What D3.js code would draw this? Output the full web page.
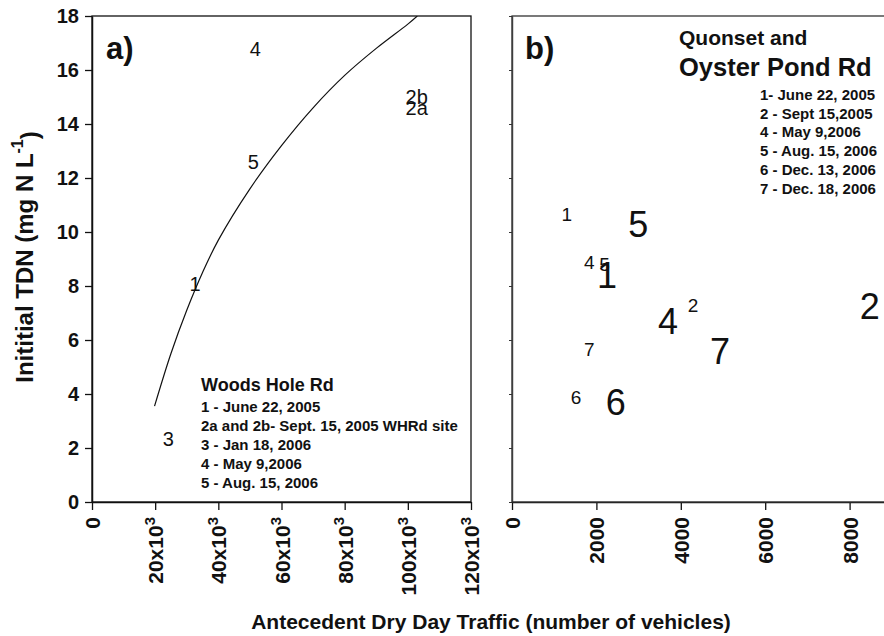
<!DOCTYPE html>
<html>
<head>
<meta charset="utf-8">
<script src="https://cdn.jsdelivr.net/npm/d3@7/dist/d3.min.js"></script>
<style>
  body { margin: 0; background: #fff; }
  text { font-family: "Liberation Sans", Arial, sans-serif; fill: #111; }
</style>
</head>
<body>
<svg id="chart" width="884" height="636"></svg>
<script>
// ---- panel a : Woods Hole Rd ----
var woodsLabels  = ["1", "2a", "2b", "3", "4", "5"];
var woodsTraffic = [32600, 102800, 102800, 24200, 51700, 51100];
var woodsTdn     = [8.1, 14.6, 15.0, 2.35, 16.8, 12.6];

// fitted curve, points
var fitTraffic = [19800, 25000, 30000, 35000, 40000, 50000, 60000, 70000, 80000, 90000, 100000, 103000];
var fitTdn     = [3.55, 5.5, 7.1, 8.5, 9.7, 11.6, 13.2, 14.6, 15.8, 16.8, 17.7, 18.0];

var woodsLegend = ["1 - June 22, 2005", "2a and 2b- Sept. 15, 2005 WHRd site", "3 - Jan 18, 2006",
                   "4 - May 9,2006", "5 - Aug. 15, 2006"];

// ---- panel b : Quonset and Oyster Pond Rd ----
var quonLabels  = ["1", "5", "4", "5", "1", "2", "4", "2", "7", "7", "6", "6"];
var quonTraffic = [1300, 2990, 1830, 2190, 2250, 4290, 3700, 8480, 1830, 4930, 1520, 2460];
var quonTdn     = [10.65, 10.3, 8.9, 8.8, 8.4, 7.3, 6.7, 7.25, 5.65, 5.6, 3.9, 3.7];
var quonBig     = [false, true, false, false, true, false, true, true, false, true, false, true];

var quonLegend = ["1- June 22, 2005", "2 - Sept 15,2005", "4 - May 9,2006", "5 - Aug. 15, 2006",
                  "6 - Dec. 13, 2006", "7 - Dec. 18, 2006"];

var tdnTicks      = [0, 2, 4, 6, 8, 10, 12, 14, 16, 18];
var trafficTicksA = [0, 20000, 40000, 60000, 80000, 100000, 120000];
var trafficTicksB = [0, 2000, 4000, 6000, 8000];

var plotTop = 16, plotBottom = 502;
var svg = d3.select("#chart");

var y = d3.scaleLinear().domain([0, 18]).range([plotBottom, plotTop]);
var xa = d3.scaleLinear().domain([0, 120000]).range([92, 471]);
var xb = d3.scaleLinear().domain([0, 9000]).range([512, 891.8]);

function bottomAxis(scale, ticks, fmt) {
  var g = svg.append("g").attr("transform", "translate(0," + plotBottom + ")")
    .call(d3.axisBottom(scale).tickValues(ticks).tickSize(8).tickSizeOuter(0).tickFormat(""));
  g.select(".domain").attr("stroke", "#111").attr("stroke-width", 1.5);
  g.selectAll(".tick line").attr("stroke", "#111").attr("stroke-width", 1.3);
  g.selectAll(".tick").append("text")
    .attr("transform", "rotate(-90)")
    .attr("x", -15).attr("y", 0).attr("dy", "0.36em")
    .attr("text-anchor", "end")
    .style("font-size", "21px").style("font-weight", "bold")
    .each(function (d) { fmt(d3.select(this), d); });
  return g;
}

// y axis panel a
var ga = svg.append("g").attr("transform", "translate(92,0)")
  .call(d3.axisLeft(y).tickValues(tdnTicks).tickSize(7).tickSizeOuter(0).tickPadding(6));
ga.select(".domain").attr("stroke", "#111").attr("stroke-width", 1.5);
ga.selectAll(".tick line").attr("stroke", "#111").attr("stroke-width", 1.3);
ga.selectAll(".tick text").style("font-size", "20px").style("font-weight", "bold").attr("fill", "#111");

// y axis panel b (no labels)
var gb = svg.append("g").attr("transform", "translate(512,0)")
  .call(d3.axisLeft(y).tickValues(tdnTicks).tickSize(3).tickSizeOuter(0).tickFormat(""));
gb.select(".domain").attr("stroke", "#555").attr("stroke-width", 1.5);
gb.selectAll(".tick line").attr("stroke", "#333");

bottomAxis(xa, trafficTicksA, function (t, d) {
  if (d === 0) { t.text("0"); return; }
  t.text(d / 1000 + "x10");
  t.append("tspan").attr("dy", "-0.55em").style("font-size", "15px").text("3");
});
bottomAxis(xb, trafficTicksB, function (t, d) { t.text(d); });

// frames
svg.append("rect").attr("x", 92).attr("y", plotTop).attr("width", 471 - 92).attr("height", plotBottom - plotTop)
  .attr("fill", "none").attr("stroke", "#111").attr("stroke-width", 1.3);
svg.append("rect").attr("x", 512).attr("y", plotTop).attr("width", 400).attr("height", plotBottom - plotTop)
  .attr("fill", "none").attr("stroke", "#333").attr("stroke-width", 1.3);

// clip for panel a curve
svg.append("clipPath").attr("id", "clipA").append("rect")
  .attr("x", 92).attr("y", plotTop).attr("width", 471 - 92).attr("height", plotBottom - plotTop);

var fitPts = fitTraffic.map(function (v, i) { return [v, fitTdn[i]]; });
var line = d3.line().x(function (d) { return xa(d[0]); }).y(function (d) { return y(d[1]); })
  .curve(d3.curveCatmullRom.alpha(0.5));
svg.append("path").datum(fitPts).attr("d", line).attr("clip-path", "url(#clipA)")
  .attr("fill", "none").attr("stroke", "#111").attr("stroke-width", 1.2);

// point labels panel a
svg.append("g").selectAll("text").data(woodsLabels).enter().append("text")
  .attr("x", function (d, i) { return xa(woodsTraffic[i]); })
  .attr("y", function (d, i) { return y(woodsTdn[i]); })
  .attr("dy", "0.36em").attr("text-anchor", "middle")
  .style("font-size", "20px")
  .text(function (d) { return d; });

// point labels panel b
svg.append("g").selectAll("text").data(quonLabels).enter().append("text")
  .attr("x", function (d, i) { return xb(quonTraffic[i]); })
  .attr("y", function (d, i) { return y(quonTdn[i]); })
  .attr("dy", "0.36em").attr("text-anchor", "middle")
  .style("font-size", function (d, i) { return quonBig[i] ? "36px" : "19px"; })
  .text(function (d) { return d; });

// panel letters
svg.append("text").attr("x", 106).attr("y", 59).style("font-size", "31px").style("font-weight", "bold").text("a)");
svg.append("text").attr("x", 525).attr("y", 59).style("font-size", "31px").style("font-weight", "bold").text("b)");

// legend a
svg.append("text").attr("x", 201).attr("y", 391).style("font-size", "18px").style("font-weight", "bold").text("Woods Hole Rd");
svg.append("g").selectAll("text").data(woodsLegend).enter().append("text")
  .attr("x", 201).attr("y", function (d, i) { return 412 + i * 19.1; })
  .style("font-size", "15px").style("font-weight", "bold")
  .text(function (d) { return d; });

// legend b
svg.append("text").attr("x", 679).attr("y", 45).style("font-size", "21px").style("font-weight", "bold").text("Quonset and");
svg.append("text").attr("x", 679).attr("y", 76).style("font-size", "25.5px").style("font-weight", "bold").text("Oyster Pond Rd");
svg.append("g").selectAll("text").data(quonLegend).enter().append("text")
  .attr("x", 760).attr("y", function (d, i) { return 100 + i * 18.7; })
  .style("font-size", "15px").style("font-weight", "bold")
  .text(function (d) { return d; });

// axis titles
svg.append("text").attr("transform", "translate(33,257) rotate(-90)")
  .attr("text-anchor", "middle").style("font-size", "24px").style("font-weight", "bold")
  .text("Inititial TDN (mg N L")
  .call(function (t) {
    t.append("tspan").attr("dy", "-0.6em").style("font-size", "16px").text("-1");
    t.append("tspan").attr("dy", "0.6em").text(")");
  });
svg.append("text").attr("x", 491).attr("y", 629).attr("text-anchor", "middle")
  .style("font-size", "21px").style("font-weight", "bold")
  .text("Antecedent Dry Day Traffic (number of vehicles)");
</script>
</body>
</html>
